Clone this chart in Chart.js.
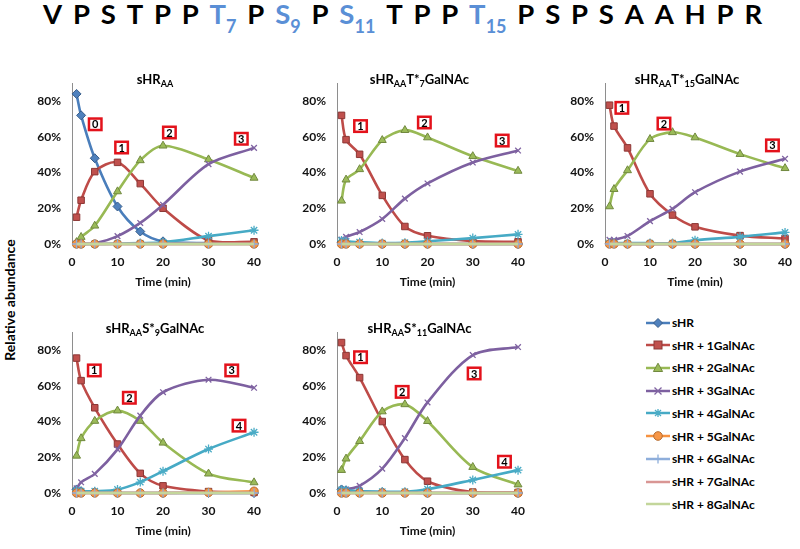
<!DOCTYPE html>
<html>
<head>
<meta charset="utf-8">
<script src="https://cdn.jsdelivr.net/npm/chart.js@4.4.1/dist/chart.umd.min.js"></script>
<style>
  html, body { margin: 0; padding: 0; background: #fff; }
  body { width: 800px; height: 549px; position: relative; overflow: hidden; font-family: Lato, "Open Sans", sans-serif; color: #000; }
  #header { position: absolute; left: 43px; top: 0; display: flex; align-items: baseline; font-weight: 700; font-size: 27.5px; line-height: 27px; white-space: nowrap; }
  #header span.tok { margin-right: 10.8px; }
  #header span.blue { color: #5A8FD6; }
  #header sub { font-size: 18px; vertical-align: -9px; line-height: 0; }
  .panel { position: absolute; }
  .ptitle { position: absolute; font-weight: 700; font-size: 13px; white-space: nowrap; transform: translate(-50%, -50%); line-height: 1; }
  .ptitle sub { font-size: 9px; vertical-align: -3px; line-height: 0; }
  #ylabel { position: absolute; left: 8.5px; top: 300px; transform: translate(-50%, -50%) rotate(-90deg); font-weight: 700; font-size: 14px; white-space: nowrap; }
  #legend { position: absolute; left: 646px; top: 0; }
  .litem { position: absolute; left: 0; height: 16px; display: flex; align-items: center; white-space: nowrap; font-weight: 700; font-size: 12px; transform: translateY(-50%); }
  .litem svg { margin-right: 2px; }
</style>
</head>
<body>
<div id="header"></div>
<div id="ylabel">Relative abundance</div>
<div id="legend"></div>
<script>
// ---------------- data ----------------
const times = [1, 2, 5, 10, 15, 20, 30, 40];
const xTicks = [0, 10, 20, 30, 40];
const yTicks = [0, 20, 40, 60, 80];
const yMax = 90;

const seriesNames = ['sHR', 'sHR + 1GalNAc', 'sHR + 2GalNAc', 'sHR + 3GalNAc', 'sHR + 4GalNAc',
  'sHR + 5GalNAc', 'sHR + 6GalNAc', 'sHR + 7GalNAc', 'sHR + 8GalNAc'];

const headerTokens = [
  ['V'], ['P'], ['S'], ['T'], ['P'], ['P'], ['T', '7'], ['P'], ['S', '9'], ['P'], ['S', '11'],
  ['T'], ['P'], ['P'], ['T', '15'], ['P'], ['S'], ['P'], ['S'], ['A'], ['A'], ['H'], ['P'], ['R']
];

// panel 1: sHR_AA (values in %)
const aaValues = [
  [84, 72, 48, 21, 7, 1.5, 0.5, 0.3],
  [15, 24.5, 40.5, 45.7, 33.8, 20, 2, 1.2],
  [1, 3.9, 10.2, 29.4, 46.8, 55, 47.3, 37],
  [0, 0, 0.4, 4.4, 11.8, 22, 44.7, 53.8],
  [0, 0, 0, 0.2, 0.5, 1, 4.4, 7.7],
  [0, 0, 0, 0, 0, 0, 0, 0],
  [0, 0, 0, 0, 0, 0, 0, 0],
  [0, 0, 0, 0, 0, 0, 0, 0],
  [0, 0, 0, 0, 0, 0, 0, 0]
];
const aaLabels = [['0', 5.1, 67], ['1', 10.9, 54], ['2', 21.4, 62.4], ['3', 37.2, 58.9]];

// panel 2: sHR_AA T*7 GalNAc
const t7Values = [
  [1, 0.5, 0, 0, 0, 0, 0, 0],
  [72, 58.4, 50.2, 27.2, 9.8, 4.6, 1.6, 1.2],
  [24.2, 36, 41.8, 58.1, 63.7, 59.6, 49.1, 40.9],
  [2.5, 4, 6.7, 14, 25.4, 33.9, 45.6, 52.3],
  [2, 1.5, 1, 0.5, 0.7, 1.5, 3.3, 5.4],
  [0, 0, 0, 0, 0, 0, 0, 0],
  [0, 0, 0, 0, 0, 0, 0, 0],
  [0, 0, 0, 0, 0, 0, 0, 0],
  [0, 0, 0, 0, 0, 0, 0, 0]
];
const t7Labels = [['1', 5.2, 66], ['2', 19.3, 68], ['3', 36.5, 57.9]];

// panel 3: sHR_AA T*15 GalNAc
const t15Values = [
  [0.5, 0.3, 0, 0, 0, 0, 0, 0],
  [77.7, 66, 53.8, 28.1, 16.2, 9.6, 4.7, 3.1],
  [21, 30.7, 41.2, 58.7, 62.5, 59.6, 50.3, 42.4],
  [2.3, 2.3, 4.5, 12.8, 19.7, 29, 40.5, 47.7],
  [0.5, 0.5, 0.5, 0.5, 0.5, 2.1, 4, 6.5],
  [0, 0, 0, 0, 0, 0, 0, 0],
  [0, 0, 0, 0, 0, 0, 0, 0],
  [0, 0, 0, 0, 0, 0, 0, 0],
  [0, 0, 0, 0, 0, 0, 0, 0]
];
const t15Labels = [['1', 3.75, 76.2], ['2', 13.1, 67.4], ['3', 37.2, 55.2]];

// panel 4: sHR_AA S*9 GalNAc
const s9Values = [
  [2, 1, 0.5, 0, 0, 0, 0, 0],
  [75.5, 62.9, 47.7, 27.4, 11, 4, 0.8, 0.3],
  [20.8, 30.6, 40.3, 46.1, 40.3, 28.1, 10.8, 5.9],
  [2.6, 6, 10.7, 24.4, 43.3, 56.4, 63.4, 58.9],
  [1.5, 1, 1, 2, 6.1, 12.2, 24.6, 34],
  [0, 0, 0, 0, 0, 0, 0.3, 1],
  [0, 0, 0, 0, 0, 0, 0, 0],
  [0, 0, 0, 0, 0, 0, 0, 0],
  [0, 0, 0, 0, 0, 0, 0, 0]
];
const s9Labels = [['1', 4.9, 68.6], ['2', 12.6, 53.3], ['3', 35.1, 68.6], ['4', 36.7, 37.7]];

// panel 5: sHR_AA S*11 GalNAc
const s11Values = [
  [2, 1.5, 1, 0.5, 0.3, 0, 0, 0],
  [84.2, 76.9, 64.6, 40, 18.7, 6.6, 0.5, 0.3],
  [12.8, 19.2, 29, 45.6, 49.6, 40.2, 14.5, 4.7],
  [1.5, 2, 4, 13.6, 30.7, 50.7, 77.2, 81.7],
  [1.7, 1.5, 1, 0.7, 0.7, 2.1, 7.3, 12.8],
  [0, 0, 0, 0, 0, 0, 0, 0],
  [0, 0, 0, 0, 0, 0, 0, 0],
  [0, 0, 0, 0, 0, 0, 0, 0],
  [0, 0, 0, 0, 0, 0, 0, 0]
];
const s11Labels = [['1', 5.2, 76], ['2', 14.4, 56.6], ['3', 30.3, 66.9], ['4', 37, 17.5]];

const panelTitles = [
  'sHR<sub>AA</sub>',
  'sHR<sub>AA</sub>T*<sub>7</sub>GalNAc',
  'sHR<sub>AA</sub>T*<sub>15</sub>GalNAc',
  'sHR<sub>AA</sub>S*<sub>9</sub>GalNAc',
  'sHR<sub>AA</sub>S*<sub>11</sub>GalNAc'
];

// ---------------- styles ----------------
const lineColors   = ['#4A7EBB', '#BE4B48', '#98B954', '#7D60A0', '#46AAC5', '#F69240', '#8EAEDB', '#D99694', '#C3D69B'];
const markerFill   = ['#4F81BD', '#C0504D', '#9BBB59', '#8064A2', '#4BACC6', '#F79646', '#8EAEDB', '#D99694', '#C3D69B'];
const markerBorder = ['#385D8A', '#8C3836', '#71893F', '#8064A2', '#4BACC6', '#B66D31', '#8EAEDB', '#D99694', '#C3D69B'];
const markerShape  = ['rectRot', 'rect', 'triangle', 'crossRot', 'star', 'circle', 'cross', false, false];
const markerRadius = [4.5, 4.6, 4.6, 4, 4.5, 4.2, 4.5, 0, 0];

// panel layout: chart area [left, right, top, bottom] in page pixels
const panelLayout = [
  [72, 262, 73, 244],
  [337, 526, 73, 244],
  [605, 793, 73, 244],
  [72, 262, 322, 493],
  [337, 526, 322, 493]
];
const panelValues = [aaValues, t7Values, t15Values, s9Values, s11Values];
const panelLabels = [aaLabels, t7Labels, t15Labels, s9Labels, s11Labels];

const FONT = 'Lato';
Chart.defaults.font.family = FONT;
Chart.defaults.color = '#111';

// header
const header = document.getElementById('header');
headerTokens.forEach(([ch, sub]) => {
  const s = document.createElement('span');
  s.className = 'tok' + (sub ? ' blue' : '');
  s.innerHTML = ch + (sub ? '<sub>' + sub + '</sub>' : '');
  header.appendChild(s);
});

// annotation box plugin
const boxPlugin = {
  id: 'numBoxes',
  afterDatasetsDraw(chart, args, opts) {
    const items = opts.items || [];
    const {ctx} = chart;
    const xs = chart.scales.x, ys = chart.scales.y;
    ctx.save();
    items.forEach(([label, xv, yv]) => {
      const px = xs.getPixelForValue(xv), py = ys.getPixelForValue(yv);
      const w = 12.5, h = 11.5;
      ctx.fillStyle = '#fff';
      ctx.fillRect(px - w / 2, py - h / 2, w, h);
      ctx.lineWidth = 2.5;
      ctx.strokeStyle = '#E3121B';
      ctx.strokeRect(px - w / 2, py - h / 2, w, h);
      ctx.fillStyle = '#000';
      ctx.font = 'bold 11px ' + FONT;
      ctx.textAlign = 'center';
      ctx.textBaseline = 'middle';
      ctx.fillText(label, px, py + 0.5);
    });
    ctx.restore();
  }
};

function makePanel(idx) {
  const [aL, aR, aT, aB] = panelLayout[idx];
  const yAxisW = 42, padR = 10, padT = 8, xAxisH = 46;
  const left = aL - yAxisW, top = aT - padT;
  const width = (aR - aL) + yAxisW + padR;
  const height = (aB - aT) + padT + xAxisH;

  const wrap = document.createElement('div');
  wrap.className = 'panel';
  wrap.style.left = left + 'px';
  wrap.style.top = top + 'px';
  wrap.style.width = width + 'px';
  wrap.style.height = height + 'px';
  const canvas = document.createElement('canvas');
  wrap.appendChild(canvas);
  document.body.appendChild(wrap);

  const title = document.createElement('div');
  title.className = 'ptitle';
  title.innerHTML = panelTitles[idx];
  title.style.left = ((aL + aR) / 2 - 12) + 'px';
  title.style.top = (aT + 5.5) + 'px';
  document.body.appendChild(title);

  const values = panelValues[idx];
  const datasets = values.map((vals, s) => ({
    label: seriesNames[s],
    data: times.map((t, i) => ({x: t, y: vals[i]})),
    borderColor: lineColors[s],
    backgroundColor: markerFill[s],
    pointBackgroundColor: markerFill[s],
    pointBorderColor: markerBorder[s],
    pointBorderWidth: markerShape[s] === 'crossRot' || markerShape[s] === 'star' || markerShape[s] === 'cross' ? 1.3 : 1,
    pointStyle: markerShape[s],
    pointRadius: markerRadius[s],
    borderWidth: 2.6,
    tension: 0.3,
    fill: false,
    order: -s,
    clip: {left: 10, right: 10, top: 10, bottom: 6}
  }));

  new Chart(canvas, {
    type: 'line',
    data: {datasets},
    plugins: [boxPlugin],
    options: {
      responsive: true,
      maintainAspectRatio: false,
      animation: false,
      events: [],
      layout: {padding: {left: 0, right: padR, top: padT, bottom: 0}},
      plugins: {
        legend: {display: false},
        tooltip: {enabled: false},
        title: {display: false},
        numBoxes: {items: panelLabels[idx]}
      },
      scales: {
        x: {
          type: 'linear', min: 0, max: 40,
          afterBuildTicks: s => { s.ticks = xTicks.map(v => ({value: v})); },
          afterFit: s => { s.height = xAxisH; },
          grid: {display: false, drawTicks: false, tickLength: 0},
          border: {display: true, color: '#8E8E8E', width: 1},
          ticks: {padding: 11, font: {size: 12, weight: 'bold'}, color: '#111', maxRotation: 0},
          title: {display: true, text: 'Time (min)', font: {size: 12, weight: 'bold'}, color: '#111', padding: {top: 0, bottom: 1}}
        },
        y: {
          type: 'linear', min: 0, max: yMax,
          afterBuildTicks: s => { s.ticks = yTicks.map(v => ({value: v})); },
          afterFit: s => { s.width = yAxisW; },
          grid: {display: false, drawTicks: false, tickLength: 0},
          border: {display: true, color: '#8E8E8E', width: 1},
          ticks: {padding: 11, font: {size: 12, weight: 'bold'}, color: '#111', callback: v => v + '%'}
        }
      }
    }
  });
}

panelLayout.forEach((_, i) => makePanel(i));

// legend
const legendRowsY = [322.7, 345, 367.7, 390.7, 413.3, 436.3, 458.7, 481.7, 504.3];
const legend = document.getElementById('legend');
function markerSvg(s) {
  const c = 12, cy = 8, f = markerFill[s], b = markerBorder[s];
  let shape = '';
  switch (markerShape[s]) {
    case 'rectRot': shape = `<polygon points="${c},${cy-4.5} ${c+4.5},${cy} ${c},${cy+4.5} ${c-4.5},${cy}" fill="${f}" stroke="${b}" stroke-width="1"/>`; break;
    case 'rect': shape = `<rect x="${c-4}" y="${cy-4}" width="8" height="8" fill="${f}" stroke="${b}" stroke-width="1"/>`; break;
    case 'triangle': shape = `<polygon points="${c},${cy-4.8} ${c+4.6},${cy+3.5} ${c-4.6},${cy+3.5}" fill="${f}" stroke="${b}" stroke-width="1"/>`; break;
    case 'crossRot': shape = `<path d="M${c-3.5},${cy-3.5}L${c+3.5},${cy+3.5}M${c-3.5},${cy+3.5}L${c+3.5},${cy-3.5}" stroke="${b}" stroke-width="1.3"/>`; break;
    case 'star': shape = `<path d="M${c-4},${cy}L${c+4},${cy}M${c},${cy-4}L${c},${cy+4}M${c-3},${cy-3}L${c+3},${cy+3}M${c-3},${cy+3}L${c+3},${cy-3}" stroke="${b}" stroke-width="1.3"/>`; break;
    case 'circle': shape = `<circle cx="${c}" cy="${cy}" r="4.3" fill="${f}" stroke="${b}" stroke-width="1"/>`; break;
    case 'cross': shape = `<path d="M${c-4.5},${cy}L${c+4.5},${cy}M${c},${cy-4.5}L${c},${cy+4.5}" stroke="${b}" stroke-width="1.3"/>`; break;
  }
  return `<svg width="24" height="16" viewBox="0 0 24 16"><line x1="0" y1="${cy}" x2="24" y2="${cy}" stroke="${lineColors[s]}" stroke-width="2.5"/>${shape}</svg>`;
}
seriesNames.forEach((name, s) => {
  const d = document.createElement('div');
  d.className = 'litem';
  d.style.top = legendRowsY[s] + 'px';
  d.innerHTML = markerSvg(s) + '<span>' + name + '</span>';
  legend.appendChild(d);
});
</script>
</body>
</html>
